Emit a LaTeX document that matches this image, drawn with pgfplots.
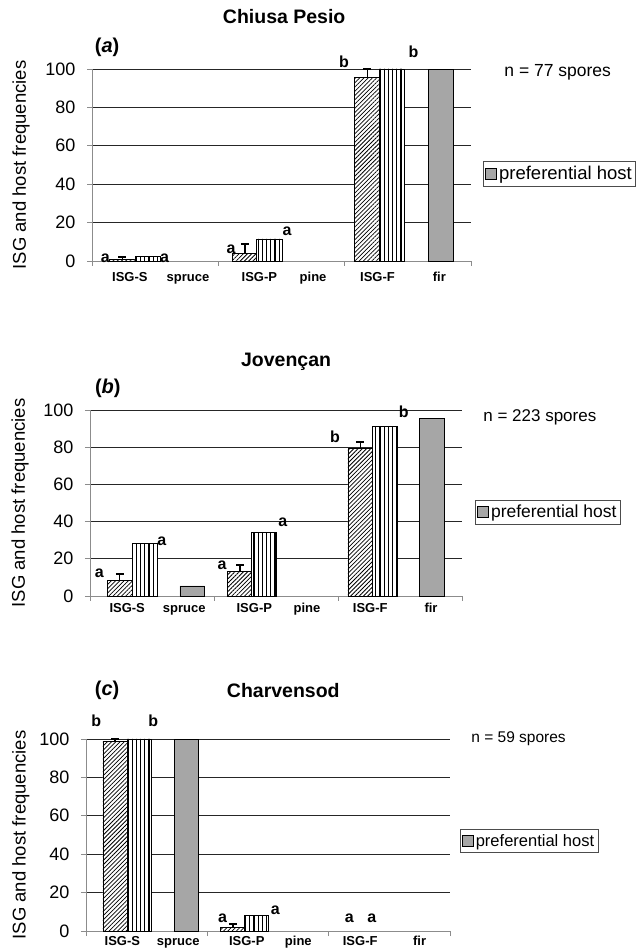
\documentclass[border=0pt]{standalone}
\usepackage{fontspec}
\setmainfont{Liberation Sans}
\usepackage{pgfplots}
\pgfplotsset{compat=1.18}
\usetikzlibrary{patterns,patterns.meta}
\definecolor{hostgray}{HTML}{A6A6A6}
\definecolor{axgray}{HTML}{8C8C8C}

\pgfdeclarepatternformonly{vlines}{\pgfqpoint{-1pt}{-1pt}}{\pgfqpoint{5pt}{5pt}}{\pgfqpoint{4.2pt}{4.2pt}}{%
  \pgfsetlinewidth{1.1pt}%
  \pgfpathmoveto{\pgfqpoint{2pt}{-0.6pt}}%
  \pgfpathlineto{\pgfqpoint{2pt}{4.8pt}}%
  \pgfusepath{stroke}}

\tikzset{
 sig/.style={font=\fontsize{16}{18}\selectfont\bfseries},
 ttl/.style={font=\fontsize{19.5}{22}\selectfont\bfseries},
 pan/.style={font=\fontsize{20}{22}\selectfont\bfseries},
 nsp/.style={anchor=west, font=\fontsize{#1}{20}\selectfont},
}

\pgfplotsset{
 panel/.style={
  scale only axis, anchor=south west,
  xmin=0,xmax=6,ymin=0,ymax=100,
  axis x line=bottom, axis y line=left,
  axis line style={axgray, line width=0.9pt, -},
  ytick={0,20,...,100},
  ymajorgrids, grid style={black!85, line width=0.7pt},
  xtick={0,2,4,6}, xticklabels={},
  tick align=outside,
  major tick length=5pt,
  tick style={axgray, line width=0.9pt},
  extra x ticks={0.6,1.52,2.65,3.5,4.52,5.5},
  extra x tick labels={ISG-S,spruce,ISG-P,pine,ISG-F,fir},
  yticklabel style={font=\fontsize{18}{20}\selectfont, xshift=-8pt},
  /pgf/number format/assume math mode=true,
  ybar, bar width=0.4,
  clip=false,
  ylabel={ISG and host frequencies},
  ylabel style={font=\fontsize{18.5}{20}\selectfont, anchor=center},
  legend style={draw=black!70, line width=0.6pt, fill=white, inner xsep=2pt, inner ysep=3pt, anchor=west, legend cell align=left},
 },
 xlab/.style={extra x tick style={major tick length=0pt, grid=none,
     tick label style={font=\fontsize{13}{14}\selectfont\bfseries, text height=9.5pt, text depth=2.5pt, anchor=north, yshift=#1}}},
 hatch/.style={bar shift=0pt, fill=white, draw=black, line width=0.8pt,
   postaction={pattern={Lines[angle=45,distance=3pt,line width=0.75pt]}},
   error bars/y dir=plus, error bars/y explicit,
   error bars/error bar style={black,line width=1.4pt},
   error bars/error mark options={black, line width=1.8pt, mark size=4pt, rotate=90}},
 vert/.style={bar shift=0pt, fill=white, draw=black, line width=0.8pt,
   postaction={pattern=vlines}},
 host/.style={bar shift=0pt, fill=hostgray, draw=black, line width=0.8pt,
   legend image code/.code={\draw[fill=hostgray, draw=black, line width=0.7pt] (0pt,-5.5pt) rectangle (11pt,5.5pt);}},
}

\begin{document}
\begin{tikzpicture}
\useasboundingbox (0,0) rectangle (639pt,951pt);

% ---------------- panel (a) ----------------
\begin{axis}[panel, xlab=-7pt, at={(92pt,690pt)}, width=379pt, height=192pt,
  ylabel style={at={(axis description cs:-0.187,0.5)}},
  legend style={at={(1.032,0.453)}, font=\fontsize{18.5}{21}\selectfont}]
\addplot[hatch, forget plot] coordinates {(0.48,1) +- (0,1) (2.42,4.0) +- (0,4.7) (4.36,95.7) +- (0,4.3)};
\addplot[vert, forget plot] coordinates {(0.88,2.6) (2.81,11.5) (4.75,100)};
\addplot[host] coordinates {(5.52,100)};
\addlegendentry{\fontsize{18.5}{21}\selectfont preferential host}
\node[sig] at (axis cs:0.21,1.5) {a};
\node[sig] at (axis cs:1.15,1.5) {a};
\node[sig] at (axis cs:2.2,6) {a};
\node[sig] at (axis cs:3.09,15.6) {a};
\node[sig] at (axis cs:3.99,104) {b};
\node[sig] at (axis cs:5.09,109) {b};
\node[ttl] at (rel axis cs:0.507,1.271) {Chiusa Pesio};
\node[pan] at (rel axis cs:0.04,1.115) {(\textit{a})};
\node[nsp=17.5] at (rel axis cs:1.079,0.984) {n = 77 spores};
\end{axis}

% ---------------- panel (b) ----------------
\begin{axis}[panel, xlab=-3pt, at={(90pt,355pt)}, width=372pt, height=186pt,
  ylabel style={at={(axis description cs:-0.188,0.5)}},
  legend style={at={(1.035,0.452)}, font=\fontsize{17.5}{20}\selectfont}]
\addplot[hatch, forget plot] coordinates {(0.48,8.4) +- (0,3.4) (2.42,13.1) +- (0,3.6) (4.36,79.4) +- (0,3.6)};
\addplot[vert, forget plot] coordinates {(0.88,28.1) (2.81,34.2) (4.75,91.2)};
\addplot[host] coordinates {(1.65,5.4) (5.52,95.5)};
\addlegendentry{\fontsize{17.5}{20}\selectfont preferential host}
\node[sig] at (axis cs:0.15,12.2) {a};
\node[sig] at (axis cs:1.16,29.2) {a};
\node[sig] at (axis cs:2.13,16.7) {a};
\node[sig] at (axis cs:3.11,39.8) {a};
\node[sig] at (axis cs:3.95,85.6) {b};
\node[sig] at (axis cs:5.06,99) {b};
\node[ttl] at (rel axis cs:0.527,1.258) {Jovençan};
\node[pan] at (rel axis cs:0.048,1.118) {(\textit{b})};
\node[nsp=17] at (rel axis cs:1.048,0.962) {n = 223 spores};
\end{axis}

% ---------------- panel (c) ----------------
\begin{axis}[panel, xlab=-1pt, at={(86pt,20pt)}, width=364pt, height=192pt,
  ylabel style={at={(axis description cs:-0.179,0.5)}},
  legend style={at={(1.027,0.469)}, font=\fontsize{16.5}{19}\selectfont}]
\addplot[hatch, forget plot] coordinates {(0.48,98.6) +- (0,1.4) (2.42,1.7) +- (0,1.8)};
\addplot[vert, forget plot] coordinates {(0.88,100) (2.81,8.2)};
\addplot[host] coordinates {(1.65,100)};
\addlegendentry{\fontsize{16.5}{19}\selectfont preferential host}
\node[sig] at (axis cs:0.17,109.7) {b};
\node[sig] at (axis cs:1.11,109.7) {b};
\node[sig] at (axis cs:2.25,6.8) {a};
\node[sig] at (axis cs:3.12,10.8) {a};
\node[sig] at (axis cs:4.34,6.8) {a};
\node[sig] at (axis cs:4.71,6.8) {a};
\node[ttl] at (rel axis cs:0.542,1.255) {Charvensod};
\node[pan] at (rel axis cs:0.058,1.255) {(\textit{c})};
\node[nsp=15.5] at (rel axis cs:1.049,1.0) {n = 59 spores};
\end{axis}
\end{tikzpicture}
\end{document}
